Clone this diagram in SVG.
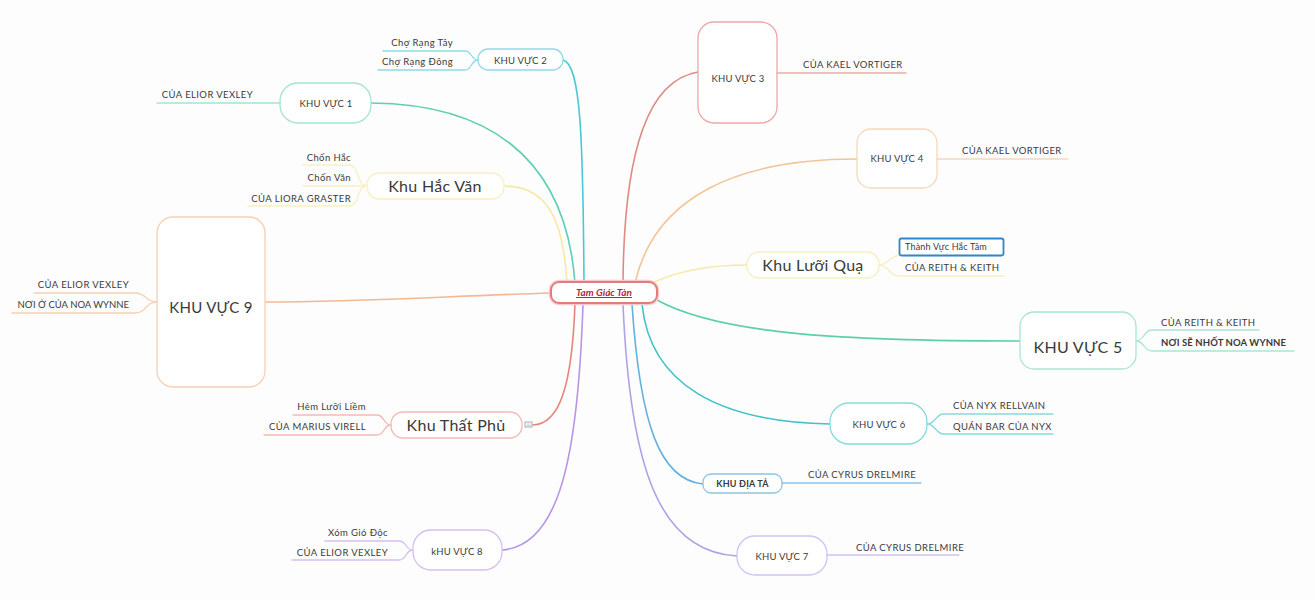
<svg xmlns="http://www.w3.org/2000/svg" width="1315" height="600" viewBox="0 0 1315 600">
<style>
  text { font-family: "Lato", "Noto Sans", sans-serif; fill: #3a3a3a; }
  .c { fill: none; stroke-width: 1.6; stroke-linecap: round; }
  .u { fill: none; stroke-width: 1.3; stroke-linecap: round; }
  .b { fill: #ffffff; stroke-width: 1.3; }
  .s { font-size: 9.5px; letter-spacing: 0.4px; }
  .m { font-size: 9.5px; text-anchor: middle; letter-spacing: 0.2px; }
  .l { font-size: 16px; text-anchor: middle; letter-spacing: 0.3px; }
  .e { text-anchor: end; }
</style>
<rect x="0" y="0" width="1315" height="600" fill="#fdfdfd"/>

<g id="connectors">
  <path class="c" stroke="#4cc8d5" d="M584 283 C 583 140, 581 64, 563 60"/>
  <path class="c" stroke="#5ecfb2" d="M575 283 C 565 150, 480 104, 371 103"/>
  <path class="c" stroke="#f6e9a6" d="M567 283 C 563 215, 545 186, 504 186"/>
  <path class="c" stroke="#f2b994" d="M551 293 C 450 296, 360 302, 265 302"/>
  <path class="c" stroke="#e4877a" d="M575 304 C 572 385, 560 424, 533 425"/>
  <path class="c" stroke="#b994e5" d="M583 304 C 578 455, 560 546, 502 550"/>
  <path class="c" stroke="#de8a84" d="M623 283 C 624 145, 650 80, 698 72"/>
  <path class="c" stroke="#f3c496" d="M635 283 C 655 195, 740 159, 857 159"/>
  <path class="c" stroke="#f5eba8" d="M652 283 C 680 270, 710 265, 747 265"/>
  <path class="c" stroke="#5ccfae" d="M657 300 C 720 335, 850 341, 1020 341"/>
  <path class="c" stroke="#3fc2c9" d="M642 304 C 650 385, 720 422, 830 424"/>
  <path class="c" stroke="#62b1df" d="M632 304 C 640 425, 660 480, 703 484"/>
  <path class="c" stroke="#b2a0e6" d="M623 304 C 630 470, 660 552, 737 556"/>
</g>

<g id="center">
  <rect x="549.5" y="280.5" width="109" height="24" rx="10" fill="none" stroke="#f6cccc" stroke-width="1.5"/>
  <rect x="551" y="282" width="106" height="21" rx="8" fill="#ffffff" stroke="#e27b7b" stroke-width="2"/>
  <text x="604" y="296" text-anchor="middle" font-size="10" font-weight="bold" font-style="italic" text-decoration="underline" style="fill:#b3283f">Tam Giác Tàn</text>
</g>

<g id="kv2">
  <rect class="b" x="478" y="49" width="85" height="21" rx="10" stroke="#8fdbe5"/>
  <text class="m" x="520.5" y="64">KHU VỰC 2</text>
  <path class="u" stroke="#8fdbe5" d="M478 60 C 471 60, 472 51, 465 51 L 383 51 M478 60 C 471 60, 472 70, 465 70 L 378 70"/>
  <text class="s e" x="453" y="46">Chợ Rạng Tây</text>
  <text class="s e" x="453" y="65">Chợ Rạng Đông</text>
</g>

<g id="kv1">
  <rect class="b" x="280" y="83" width="91" height="40" rx="18" stroke="#a3e4d2"/>
  <text class="m" x="326" y="107">KHU VỰC 1</text>
  <path class="u" stroke="#a3e4d2" d="M280 103 L 157 103"/>
  <text class="s e" x="253" y="98">CỦA ELIOR VEXLEY</text>
</g>

<g id="khu-hac-van">
  <rect class="b" x="367" y="173" width="137" height="26" rx="12" stroke="#f8f0c2"/>
  <text class="l" x="435" y="192">Khu Hắc Văn</text>
  <path class="u" stroke="#f8f0c2" d="M367 186 L 303 186 M367 186 C 356 186, 360 165, 349 165 L 303 165 M367 186 C 356 186, 360 206, 349 206 L 248 206"/>
  <text class="s e" x="351" y="161">Chốn Hắc</text>
  <text class="s e" x="351" y="181">Chốn Văn</text>
  <text class="s e" x="351" y="202">CỦA LIORA GRASTER</text>
</g>

<g id="kv9">
  <rect class="b" x="157" y="217" width="108" height="170" rx="16" stroke="#f6d0b5"/>
  <text class="l" x="211" y="313" style="font-size:15px">KHU VỰC 9</text>
  <path class="u" stroke="#f6d0b5" d="M157 302 C 145 302, 147 293, 135 293 L 34 293 M157 302 C 145 302, 147 313, 135 313 L 12 313"/>
  <text class="s e" x="129" y="288">CỦA ELIOR VEXLEY</text>
  <text class="s e" x="129" y="308" style="letter-spacing:0">NƠI Ở CỦA NOA WYNNE</text>
</g>

<g id="khu-that-phu">
  <rect class="b" x="391" y="412" width="131" height="26" rx="12" stroke="#f2bab4"/>
  <text class="l" x="456" y="431">Khu Thất Phủ</text>
  <rect x="525" y="422" width="7" height="5" fill="#ffffff" stroke="#9a9a9a" stroke-width="0.8"/>
  <path d="M526.5 424 H530.5 M526.5 425.5 H530.5" stroke="#9a9a9a" stroke-width="0.5"/>
  <path class="u" stroke="#f2bab4" d="M391 425 C 383 425, 385 415, 377 415 L 293 415 M391 425 C 383 425, 385 435, 377 435 L 264 435"/>
  <text class="s e" x="366" y="410">Hẻm Lưỡi Liềm</text>
  <text class="s e" x="366" y="430">CỦA MARIUS VIRELL</text>
</g>

<g id="kv8">
  <rect class="b" x="413" y="530" width="89" height="40" rx="18" stroke="#d6bff0"/>
  <text class="m" x="457" y="555">kHU VỰC 8</text>
  <path class="u" stroke="#d6bff0" d="M413 550 C 405 550, 407 541, 399 541 L 325 541 M413 550 C 405 550, 407 560, 399 560 L 292 560"/>
  <text class="s e" x="388" y="536">Xóm Gió Độc</text>
  <text class="s e" x="388" y="556">CỦA ELIOR VEXLEY</text>
</g>

<g id="kv3">
  <rect class="b" x="698" y="22" width="79" height="101" rx="16" stroke="#eba9a5"/>
  <text class="m" x="738" y="82">KHU VỰC 3</text>
  <path class="u" stroke="#eba9a5" d="M777 73 L 906 73"/>
  <text class="s" x="803" y="68">CỦA KAEL VORTIGER</text>
</g>

<g id="kv4">
  <rect class="b" x="857" y="129" width="80" height="59" rx="14" stroke="#f5d8bd"/>
  <text class="m" x="897" y="162">KHU VỰC 4</text>
  <path class="u" stroke="#f5d8bd" d="M937 159 L 1068 159"/>
  <text class="s" x="962" y="154">CỦA KAEL VORTIGER</text>
</g>

<g id="khu-luoi-qua">
  <rect class="b" x="747" y="252" width="132" height="26" rx="12" stroke="#f6efc2"/>
  <text class="l" x="813" y="271">Khu Lưỡi Quạ</text>
  <path class="u" stroke="#f6efc2" d="M879 265 C 889 265, 889 256, 900 255 M879 265 C 889 265, 889 276, 899 276 L 1004 276"/>
  <rect x="899.5" y="238.5" width="104" height="17" rx="2" fill="#ffffff" stroke="#2f86c9" stroke-width="1.8"/>
  <text class="s" x="905" y="250" style="font-size:9px;letter-spacing:0.2px">Thành Vực Hắc Tâm</text>
  <text class="s" x="905" y="271">CỦA REITH &amp; KEITH</text>
</g>

<g id="kv5">
  <rect class="b" x="1020" y="312" width="116" height="57" rx="14" stroke="#a8e6d3"/>
  <text class="l" x="1078" y="353">KHU VỰC 5</text>
  <path class="u" stroke="#a8e6d3" d="M1136 341 C 1145 341, 1143 330, 1152 330 L 1259 330 M1136 341 C 1145 341, 1143 351, 1152 351 L 1294 351"/>
  <text class="s" x="1161" y="326">CỦA REITH &amp; KEITH</text>
  <text class="s" x="1161" y="346" style="font-weight:bold;letter-spacing:0.1px">NƠI SẼ NHỐT NOA WYNNE</text>
</g>

<g id="kv6">
  <rect class="b" x="830" y="403" width="97" height="41" rx="19" stroke="#86d9dc"/>
  <text class="m" x="879" y="428">KHU VỰC 6</text>
  <path class="u" stroke="#86d9dc" d="M927 424 C 936 424, 935 414, 944 414 L 1053 414 M927 424 C 936 424, 935 434, 944 434 L 1053 434"/>
  <text class="s" x="953" y="409">CỦA NYX RELLVAIN</text>
  <text class="s" x="953" y="430">QUÁN BAR CỦA NYX</text>
</g>

<g id="khu-dia-ta">
  <rect class="b" x="703" y="474" width="79" height="19" rx="8" stroke="#8cc4e5"/>
  <text class="m" x="742.5" y="487" style="font-size:9px;font-weight:bold">KHU ĐỊA TẢ</text>
  <path class="u" stroke="#8cc4e5" d="M782 483 L 921 483"/>
  <text class="s" x="808" y="478">CỦA CYRUS DRELMIRE</text>
</g>

<g id="kv7">
  <rect class="b" x="737" y="536" width="90" height="39" rx="18" stroke="#d0c4f0"/>
  <text class="m" x="782" y="560">KHU VỰC 7</text>
  <path class="u" stroke="#d0c4f0" d="M827 555 L 959 555"/>
  <text class="s" x="856" y="551">CỦA CYRUS DRELMIRE</text>
</g>
</svg>
